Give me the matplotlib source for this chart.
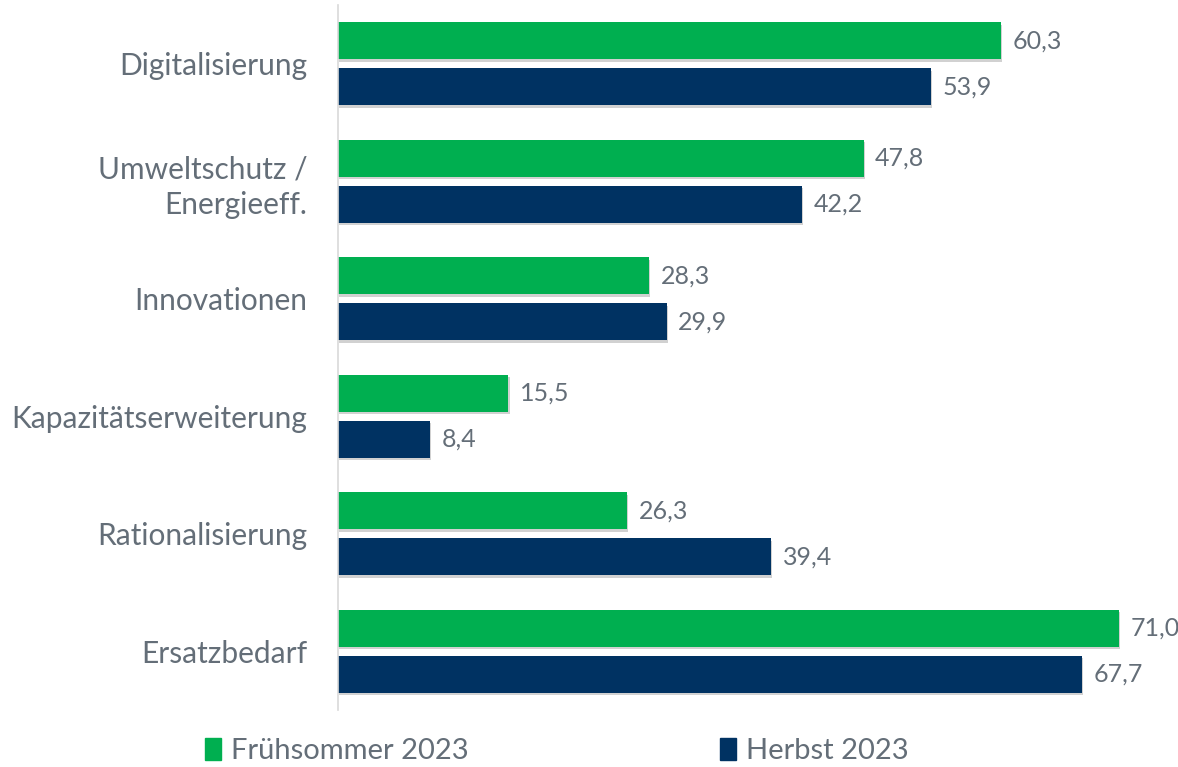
import matplotlib
matplotlib.use("Agg")
import matplotlib.pyplot as plt
import matplotlib.patheffects as pe
from matplotlib.patches import Patch

categories = ["Digitalisierung", "Umweltschutz /\nEnergieeff.", "Innovationen",
              "Kapazitätserweiterung", "Rationalisierung", "Ersatzbedarf"]
fruehsommer = [60.3, 47.8, 28.3, 15.5, 26.3, 71.0]
herbst = [53.9, 42.2, 29.9, 8.4, 39.4, 67.7]
series_names = ["Frühsommer 2023", "Herbst 2023"]
colors = ["#00AF50", "#003262"]

plt.rcParams['font.family'] = ['Lato', 'DejaVu Sans']
TXT = "#646E78"

W, H = 1178, 767
fig = plt.figure(figsize=(W / 100, H / 100), dpi=100)
ax = fig.add_axes([338 / W, 1 - 710 / H, (W - 338) / W, 705 / H])

bh = 0.316
off = 0.196
ys = list(range(len(categories)))
shadow = [pe.SimplePatchShadow(offset=(0.8, -1.8), alpha=0.18, shadow_rgbFace="#000000"), pe.Normal()]
for vals, o, c in [(fruehsommer, -off, colors[0]), (herbst, off, colors[1])]:
    bars = ax.barh([y + o for y in ys], vals, height=bh, color=c, zorder=2)
    for b in bars:
        b.set_path_effects(shadow)
    for y, v in zip(ys, vals):
        ax.text(v + 1.05, y + o, f"{v:.1f}".replace(".", ","), va="center", ha="left",
                fontsize=18, color=TXT)

ax.set_xlim(0, 76.4)
ax.set_ylim(5.5, -0.5)
ax.set_yticks(ys)
ax.set_yticklabels(categories, fontsize=21.5, color=TXT, linespacing=1.3)
for lbl in ax.get_yticklabels():
    lbl.set_horizontalalignment("right")
ax.tick_params(axis="y", length=0, pad=22)
ax.set_xticks([])
for s in ["top", "right", "bottom"]:
    ax.spines[s].set_visible(False)
ax.spines["left"].set_color("#d9d9d9")
ax.spines["left"].set_linewidth(1.2)

handles = [Patch(color=colors[0]), Patch(color=colors[1])]
leg = fig.legend(handles, series_names, loc="center left", bbox_to_anchor=(205 / W, 1 - 751 / H),
                 ncol=2, frameon=False, fontsize=21, handlelength=0.55, handleheight=0.75,
                 handletextpad=0.35, columnspacing=8.6, borderaxespad=0, borderpad=0)
for t in leg.get_texts():
    t.set_color(TXT)

fig.savefig("out.png", dpi=100)
